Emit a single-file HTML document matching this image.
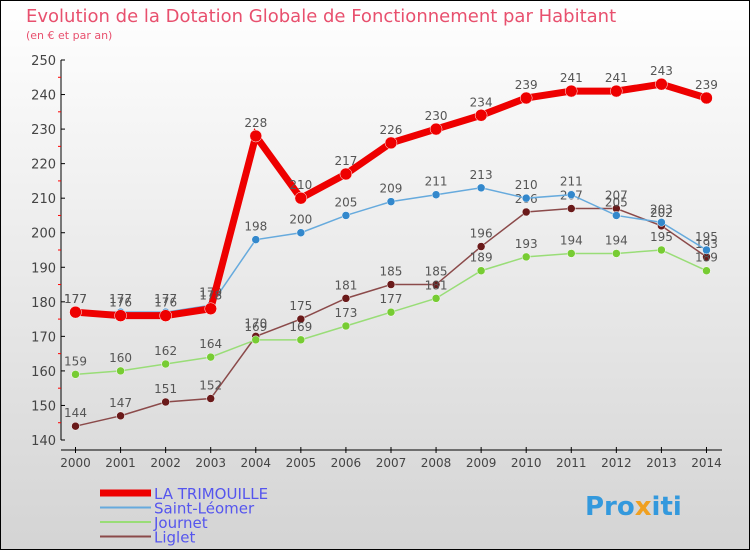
<!DOCTYPE html>
<html><head><meta charset="utf-8"><style>
body{margin:0}
#c{width:750px;height:550px;position:relative;overflow:hidden;font-family:"DejaVu Sans","Liberation Sans",sans-serif}
</style></head><body>
<div id="c">
<svg id="s" width="750" height="550" xmlns="http://www.w3.org/2000/svg">
<defs><linearGradient id="bg" x1="0" y1="0" x2="0" y2="1"><stop offset="0" stop-color="#ffffff"/><stop offset="1" stop-color="#d4d4d4"/></linearGradient></defs>
<rect x="0.5" y="0.5" width="749" height="549" fill="url(#bg)" stroke="#000"/>
<text x="26" y="22" font-size="18" fill="#e8506e">Evolution de la Dotation Globale de Fonctionnement par Habitant</text>
<text x="26" y="39" font-size="11" fill="#e8506e">(en € et par an)</text>
<g id="axes"></g><g id="series"></g><g id="legend"></g>
<text x="585" y="515" font-size="26" font-weight="bold" fill="#3399dd">Pro<tspan fill="#f0a020">x</tspan>iti</text>
</svg>
</div>
<script>
const years=[2000,2001,2002,2003,2004,2005,2006,2007,2008,2009,2010,2011,2012,2013,2014];
const yTicks=[140,150,160,170,180,190,200,210,220,230,240,250];
const trimouille=[177,176,176,178,228,210,217,226,230,234,239,241,241,243,239];
const leomer=[177,177,177,179,198,200,205,209,211,213,210,211,205,203,195];
const journet=[159,160,162,164,169,169,173,177,181,189,193,194,194,195,189];
const liglet=[144,147,151,152,170,175,181,185,185,196,206,207,207,202,193];
const NS="http://www.w3.org/2000/svg";
function X(i){return 75.5+i*45.07;}
function Y(v){return 440-(v-140)*(380/110);}
function mk(t,a,p){const e=document.createElementNS(NS,t);for(const k in a)e.setAttribute(k,a[k]);p.appendChild(e);return e;}
const ax=document.getElementById('axes');
let l=mk('line',{x1:61,y1:60,x2:61,y2:440,stroke:'#000'},ax);


l=mk('line',{x1:61,y1:450,x2:722,y2:450,stroke:'#000'},ax);


yTicks.forEach(v=>{
  mk('line',{x1:61,y1:Y(v),x2:65,y2:Y(v),stroke:'#000'},ax);
  if(v<250)mk('line',{x1:58,y1:Y(v+5),x2:61,y2:Y(v+5),stroke:'#f00'},ax);
  const t=mk('text',{x:56,y:Y(v)+5,'font-size':13,fill:'#444','text-anchor':'end'},ax);
  t.textContent=v;
  
  
});
years.forEach((y,i)=>{
  mk('line',{x1:X(i),y1:447,x2:X(i),y2:453,stroke:'#000'},ax);
  const t=mk('text',{x:X(i),y:467,'font-size':12,fill:'#444','text-anchor':'middle'},ax);
  t.textContent=y;
  
  
});
const sg=document.getElementById('series');
const defs=[
 {n:'liglet',d:liglet,c:'#8b4a4a',m:'#6a1a1a',w:1.5,r:4},
 {n:'journet',d:journet,c:'#99dd77',m:'#77cc33',w:1.5,r:4},
 {n:'saint-leomer',d:leomer,c:'#66aadd',m:'#3388cc',w:1.5,r:4},
 {n:'la-trimouille',d:trimouille,c:'#ee0000',m:'#ee0000',w:7,r:6}
];
defs.forEach(s=>{
  const g=mk('g',{},sg);
  
  
  const p=mk('polyline',{points:s.d.map((v,i)=>X(i)+','+Y(v)).join(' '),fill:'none',stroke:s.c,'stroke-width':s.w},g);
  
  
  s.d.forEach((v,i)=>{
    const c=mk('circle',{cx:X(i),cy:Y(v),r:s.r,fill:s.m,stroke:'#fff','stroke-width':0.5},g);
    
    
    const t=mk('text',{x:X(i),y:Y(v)-9,'font-size':12,fill:'#555','text-anchor':'middle'},g);
    t.textContent=v;
    
    
  });
});
const lg=document.getElementById('legend');
const items=[['LA TRIMOUILLE','#ee0000',7],['Saint-Léomer','#66aadd',2],['Journet','#99dd77',2],['Liglet','#8b4a4a',2]];
items.forEach((it,k)=>{
  const y=493+k*14.5;
  const ln=mk('line',{x1:100,y1:y,x2:151,y2:y,stroke:it[1],'stroke-width':it[2]},lg);
  
  
  const t=mk('text',{x:154,y:y+6,'font-size':15,fill:'#5555ee'},lg);
  t.textContent=it[0];
  
  
});
</script>
</body></html>
